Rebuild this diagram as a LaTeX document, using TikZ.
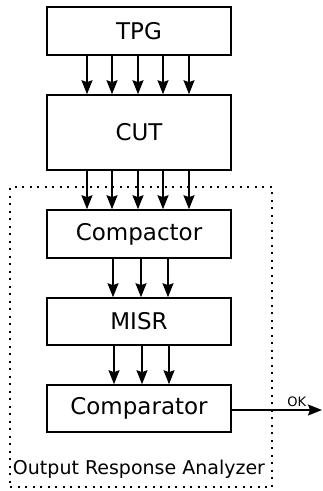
\documentclass[tikz,border=0pt]{standalone}
\usepackage{fontspec}
\setmainfont{DejaVu Sans}
\usetikzlibrary{arrows.meta}
\tikzset{
  blk/.style={draw,line width=1.6pt,minimum width=184pt,inner sep=0pt,font=\fontsize{23}{26}\selectfont},
  myarrow/.style={line width=1.6pt,-{Stealth[length=14pt,width=11pt,inset=2pt]}}
}
\begin{document}
\begin{tikzpicture}[x=1pt,y=-1pt]
\useasboundingbox (0,0) rectangle (322,491);
\node[blk,minimum height=48pt] (tpg) at (139,31) {TPG};
\node[blk,minimum height=75pt] (cut) at (139,132.5) {CUT};
\node[blk,minimum height=48pt] (cmp) at (139,234) {Compactor};
\node[blk,minimum height=47pt] (misr) at (139,321.5) {MISR};
\node[blk,minimum height=47pt] (cmpr) at (139,408.5) {Comparator};
\node[draw,line width=1.6pt,dash pattern=on 2pt off 5.5pt,minimum width=262pt,minimum height=300pt,inner sep=0pt] (ora) at (141,337) {};
\node[font=\fontsize{19}{22}\selectfont] (oral) at (139,469) {Output Response Analyzer};
\foreach \dx in {-52,-27,-1,24,50}{
  \draw[myarrow] ([xshift=\dx pt]tpg.south) -- ([xshift=\dx pt]cut.north);
  \draw[myarrow] ([xshift=\dx pt]cut.south) -- ([xshift=\dx pt]cmp.north);
}
\foreach \dx in {-26,2,29}{
  \draw[myarrow] ([xshift=\dx pt]cmp.south) -- ([xshift=\dx pt]misr.north);
}
\foreach \dx in {-25,3,30}{
  \draw[myarrow] ([xshift=\dx pt]misr.south) -- ([xshift=\dx pt]cmpr.north);
}
\coordinate (okend) at (322,410);
\draw[myarrow] (cmpr.east |- okend) -- node[pos=0.72,above=-1pt,font=\fontsize{13}{15}\selectfont] (ok) {OK} (okend);
\end{tikzpicture}
\end{document}
